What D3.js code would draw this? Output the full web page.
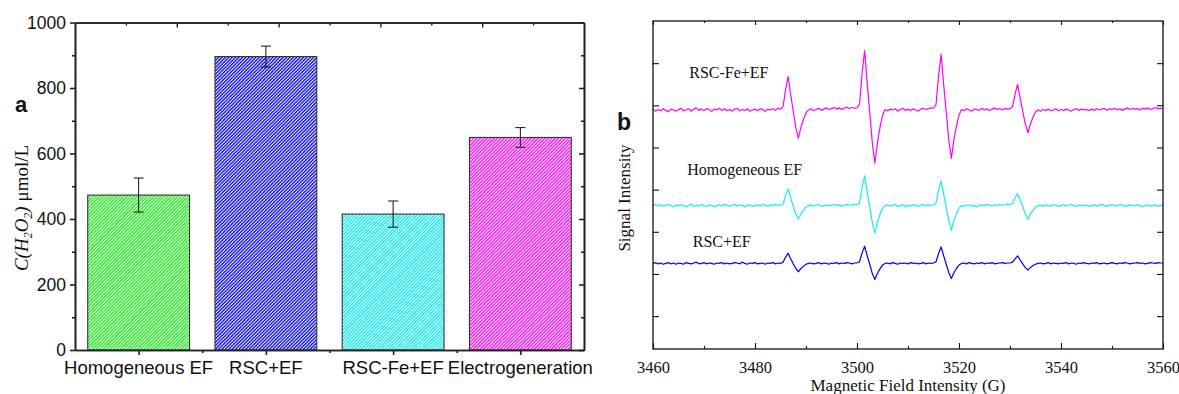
<!DOCTYPE html>
<html>
<head>
<meta charset="utf-8">
<script src="https://cdn.jsdelivr.net/npm/d3@7"></script>
<style>
  body { margin: 0; background: #fff; }
  svg { display: block; }
  .sans { font-family: "Liberation Sans", Arial, sans-serif; }
  .serif { font-family: "Liberation Serif", "Times New Roman", serif; }
</style>
</head>
<body>
<svg id="chart" width="1179" height="394"></svg>
<script>
"use strict";

// ---- panel a : H2O2 concentration ----
var categories = ["Homogeneous EF", "RSC+EF", "RSC-Fe+EF", "Electrogeneration"];
var h2o2Values = [473, 896, 415, 649];
var h2o2Errors = [52, 32, 40, 30];
var barColors = ["#22ee22", "#1010f0", "#11eeee", "#ff10ff"];
var yTicksA = [0, 200, 400, 600, 800, 1000];
var yMinorA = [100, 300, 500, 700, 900];

// ---- panel b : EPR spectra ----
var fieldG = [
  3460,3460.5,3461,3461.5,3462,3462.5,3463,3463.5,3464,3464.5,
  3465,3465.5,3466,3466.5,3467,3467.5,3468,3468.5,3469,3469.5,
  3470,3470.5,3471,3471.5,3472,3472.5,3473,3473.5,3474,3474.5,
  3475,3475.5,3476,3476.5,3477,3477.5,3478,3478.5,3479,3479.5,
  3480,3480.5,3481,3481.5,3482,3482.5,3483,3483.5,3484,3484.5,
  3485,3485.5,3486,3486.5,3487,3487.5,3488,3488.5,3489,3489.5,
  3490,3490.5,3491,3491.5,3492,3492.5,3493,3493.5,3494,3494.5,
  3495,3495.5,3496,3496.5,3497,3497.5,3498,3498.5,3499,3499.5,
  3500,3500.5,3501,3501.5,3502,3502.5,3503,3503.5,3504,3504.5,
  3505,3505.5,3506,3506.5,3507,3507.5,3508,3508.5,3509,3509.5,
  3510,3510.5,3511,3511.5,3512,3512.5,3513,3513.5,3514,3514.5,
  3515,3515.5,3516,3516.5,3517,3517.5,3518,3518.5,3519,3519.5,
  3520,3520.5,3521,3521.5,3522,3522.5,3523,3523.5,3524,3524.5,
  3525,3525.5,3526,3526.5,3527,3527.5,3528,3528.5,3529,3529.5,
  3530,3530.5,3531,3531.5,3532,3532.5,3533,3533.5,3534,3534.5,
  3535,3535.5,3536,3536.5,3537,3537.5,3538,3538.5,3539,3539.5,
  3540,3540.5,3541,3541.5,3542,3542.5,3543,3543.5,3544,3544.5,
  3545,3545.5,3546,3546.5,3547,3547.5,3548,3548.5,3549,3549.5,
  3550,3550.5,3551,3551.5,3552,3552.5,3553,3553.5,3554,3554.5,
  3555,3555.5,3556,3556.5,3557,3557.5,3558,3558.5,3559,3559.5,
  3560
];

// signal relative to each trace's baseline
var sigFeEF = [
  2,-3,1,-2,3,-1,-4,2,0,-3,
  1,4,-2,0,3,-3,2,5,-1,2,
  -2,3,1,-4,2,0,4,-1,3,-2,
  1,-3,2,4,-2,1,-1,3,-3,0,
  2,-2,3,1,-4,2,0,3,-1,4,
  2,8,49,79,36,-3,-42,-67,-42,-22,
  -7,0,3,-2,1,4,-1,2,5,1,
  3,6,2,5,1,4,7,3,6,4,
  5,14,87,141,63,-6,-78,-126,-78,-42,
  -13,1,-2,2,0,3,-3,1,4,-1,
  2,-2,3,0,-3,2,4,1,3,5,
  4,13,82,132,59,-6,-71,-115,-71,-38,
  -12,1,-2,3,0,-3,2,1,-1,4,
  0,3,-2,2,5,1,3,0,4,2,
  3,8,38,61,27,-3,-33,-54,-33,-18,
  -5,0,-3,1,-1,2,-2,0,3,-2,
  1,-1,2,0,-3,1,3,-1,2,0,
  1,-2,2,-1,3,0,2,4,-1,3,
  1,4,0,3,-1,2,5,1,4,2,
  3,0,4,2,5,1,3,6,2,4,
  3
];
var sigHomEF = [
  1,3,-1,2,-2,1,3,0,-3,2,
  -1,2,0,-3,1,4,-2,1,-1,3,
  0,-2,2,1,-3,0,2,-1,3,1,
  -2,1,3,-1,2,0,-3,1,2,-2,
  0,2,-1,3,1,-2,2,0,3,1,
  1,4,25,40,18,-2,-20,-32,-20,-11,
  -3,0,2,-1,1,3,-2,0,2,-1,
  1,3,0,2,-2,1,3,1,2,4,
  2,7,44,71,32,-3,-40,-65,-40,-21,
  -7,0,2,-1,1,3,-2,0,2,-3,
  1,-1,2,0,-2,1,3,-1,2,1,
  2,6,37,59,27,-3,-36,-58,-36,-19,
  -6,0,-2,1,2,-1,0,-3,1,2,
  0,3,1,-1,2,0,3,1,2,4,
  2,5,18,29,13,-2,-20,-32,-20,-11,
  -3,0,1,-2,2,0,-1,2,1,-2,
  0,2,-1,1,3,0,-2,1,2,-1,
  1,-2,0,2,-1,1,3,0,-2,1,
  2,0,-1,3,1,-2,0,2,1,-1,
  2,0,-3,1,2,-1,0,2,-2,1,
  0
];
var sigRscEF = [
  0,2,-1,1,-2,0,2,-1,1,-2,
  1,0,-2,2,0,-1,1,3,-1,0,
  2,-1,1,0,-2,1,0,2,-1,1,
  -1,0,2,1,-1,3,0,-2,1,0,
  2,-1,0,1,-2,1,0,2,-1,1,
  0,3,15,24,11,-1,-12,-20,-12,-7,
  -2,0,1,-1,0,2,-1,1,0,-2,
  1,0,2,-1,1,0,2,1,-1,1,
  1,4,25,41,18,-2,-24,-38,-24,-13,
  -4,0,1,-1,2,0,-2,1,0,1,
  -1,2,0,1,-1,0,2,-1,1,0,
  1,4,24,39,18,-2,-22,-36,-22,-12,
  -4,0,1,-1,2,0,-1,1,0,2,
  -1,1,0,2,-1,0,1,2,0,1,
  1,3,11,18,8,-1,-10,-16,-10,-5,
  -2,0,1,-1,0,2,-1,1,0,-1,
  1,0,2,-1,1,0,-2,1,0,2,
  0,-1,1,0,2,-1,0,1,-1,0,
  2,0,-1,1,0,2,1,-1,0,1,
  2,0,1,-1,0,2,1,0,2,1,
  1
];
var traceNames = ["RSC-Fe+EF", "Homogeneous EF", "RSC+EF"];
var traceSignals = [sigFeEF, sigHomEF, sigRscEF];
var traceBaselines = [589, 362, 225];
var traceColors = ["#ff00ff", "#11eeee", "#0000ee"];
var fieldTicks = [3460, 3480, 3500, 3520, 3540, 3560];
var fieldMinor = [3470, 3490, 3510, 3530, 3550];
var intensityTicks = [100, 200, 300, 400, 500, 600, 700];

var svg = d3.select("#chart");
var defs = svg.append("defs");

// hatch patterns
barColors.forEach(function (c, i) {
    var p = defs.append("pattern")
        .attr("id", "hatch" + i)
        .attr("patternUnits", "userSpaceOnUse")
        .attr("width", 2.4).attr("height", 2.4)
        .attr("patternTransform", "rotate(45)");
    p.append("rect").attr("width", 2.4).attr("height", 2.4).attr("fill", "#fff");
    p.append("line").attr("x1", 0.7).attr("y1", 0).attr("x2", 0.7).attr("y2", 2.4)
        .attr("stroke", c).attr("stroke-width", 1.45);
});

// ================= panel a =================
var ax = d3.scaleBand().domain(categories).range([75, 584]).paddingInner(0.2).paddingOuter(0.1);
var ay = d3.scaleLinear().domain([0, 1000]).range([350, 22.5]);
var atop = d3.scaleLinear().domain([0, 10]).range([75, 584]);

var ga = svg.append("g");

ga.selectAll("rect.bar").data(categories).enter().append("rect")
    .attr("class", "bar")
    .attr("x", function (d) { return ax(d); })
    .attr("y", function (d, i) { return ay(h2o2Values[i]); })
    .attr("width", ax.bandwidth())
    .attr("height", function (d, i) { return ay(0) - ay(h2o2Values[i]); })
    .attr("fill", function (d, i) { return "url(#hatch" + i + ")"; })
    .attr("stroke", "#333").attr("stroke-width", 1.1);

// error bars
var eb = ga.selectAll("g.err").data(categories).enter().append("g").attr("class", "err");
eb.append("line")
    .attr("x1", function (d) { return ax(d) + ax.bandwidth() / 2; })
    .attr("x2", function (d) { return ax(d) + ax.bandwidth() / 2; })
    .attr("y1", function (d, i) { return ay(h2o2Values[i] + h2o2Errors[i]); })
    .attr("y2", function (d, i) { return ay(h2o2Values[i] - h2o2Errors[i]); })
    .attr("stroke", "#111").attr("stroke-width", 1);
[1, -1].forEach(function (s) {
    eb.append("line")
        .attr("x1", function (d) { return ax(d) + ax.bandwidth() / 2 - 5; })
        .attr("x2", function (d) { return ax(d) + ax.bandwidth() / 2 + 5; })
        .attr("y1", function (d, i) { return ay(h2o2Values[i] + s * h2o2Errors[i]); })
        .attr("y2", function (d, i) { return ay(h2o2Values[i] + s * h2o2Errors[i]); })
        .attr("stroke", "#111").attr("stroke-width", 1);
});

function styleAxis(g, w) {
    g.selectAll(".domain").attr("stroke", "#222").attr("stroke-width", w);
    g.selectAll(".tick line").attr("stroke", "#222").attr("stroke-width", w);
}

// left axis
var gl = ga.append("g").attr("transform", "translate(75,0)")
    .call(d3.axisLeft(ay).tickValues(yTicksA).tickSize(5).tickSizeOuter(0).tickPadding(4)
        .tickFormat(d3.format("d")));
gl.selectAll("text").attr("class", "sans").style("font-size", "17.5px").attr("fill", "#111");
styleAxis(gl, 1.6);
var glm = ga.append("g").attr("transform", "translate(75,0)")
    .call(d3.axisLeft(ay).tickValues(yMinorA).tickSize(3).tickSizeOuter(0).tickFormat(""));
styleAxis(glm, 1.6);

// right axis (inward ticks)
var gr = ga.append("g").attr("transform", "translate(584,0)")
    .call(d3.axisLeft(ay).tickValues(yTicksA).tickSize(5).tickSizeOuter(0).tickFormat(""));
styleAxis(gr, 1.6);
var grm = ga.append("g").attr("transform", "translate(584,0)")
    .call(d3.axisLeft(ay).tickValues(yMinorA).tickSize(3).tickSizeOuter(0).tickFormat(""));
styleAxis(grm, 1.6);

// top axis (inward ticks)
var gt = ga.append("g").attr("transform", "translate(0,22.5)")
    .call(d3.axisTop(atop).tickValues([2, 4, 6, 8]).tickSize(-5).tickSizeOuter(0).tickFormat(""));
styleAxis(gt, 1.4);
var gtm = ga.append("g").attr("transform", "translate(0,22.5)")
    .call(d3.axisTop(atop).tickValues([1, 3, 5, 7, 9]).tickSize(-3).tickSizeOuter(0).tickFormat(""));
styleAxis(gtm, 1.4);

// bottom axis
var centers = categories.map(function (d) { return ax(d) + ax.bandwidth() / 2; });
var bx = d3.scaleLinear().domain([75, 584]).range([75, 584]);
var gb = ga.append("g").attr("transform", "translate(0,350)")
    .call(d3.axisBottom(bx).tickValues(centers).tickSize(5).tickSizeOuter(0).tickFormat(""));
styleAxis(gb, 1.6);
var mids = d3.pairs(centers).map(function (p) { return (p[0] + p[1]) / 2; });
var gbm = ga.append("g").attr("transform", "translate(0,350)")
    .call(d3.axisBottom(bx).tickValues(mids).tickSize(3).tickSizeOuter(0).tickFormat(""));
styleAxis(gbm, 1.6);

ga.selectAll("text.cat").data(categories).enter().append("text")
    .attr("class", "sans cat")
    .attr("x", function (d) { return ax(d) + ax.bandwidth() / 2; })
    .attr("y", 374)
    .attr("text-anchor", "middle")
    .style("font-size", "18.5px").attr("fill", "#111")
    .text(function (d) { return d; });

// y label
var yl = ga.append("text").attr("class", "serif")
    .attr("transform", "translate(28,208) rotate(-90)")
    .attr("text-anchor", "middle").style("font-size", "19px").attr("fill", "#111");
yl.append("tspan").style("font-style", "italic").text("C(H");
yl.append("tspan").style("font-style", "italic").style("font-size", "12px").attr("dy", 4).text("2");
yl.append("tspan").style("font-style", "italic").attr("dy", -4).text("O");
yl.append("tspan").style("font-style", "italic").style("font-size", "12px").attr("dy", 4).text("2");
yl.append("tspan").style("font-style", "italic").attr("dy", -4).text(")");
yl.append("tspan").text(" \u03bcmol/L");

ga.append("text").attr("class", "sans").attr("x", 15).attr("y", 112)
    .style("font-size", "22px").style("font-weight", "bold").attr("fill", "#111").text("a");

// ================= panel b =================
var bxs = d3.scaleLinear().domain([3460, 3560]).range([653, 1163]);
var bys = d3.scaleLinear().domain([22, 800]).range([349, 21]);
var gbp = svg.append("g");

var line = d3.line()
    .x(function (d) { return bxs(d[0]); })
    .y(function (d) { return bys(d[1]); });

traceSignals.forEach(function (sig, k) {
    var pts = fieldG.map(function (f, i) { return [f, traceBaselines[k] + sig[i]]; });
    gbp.append("path").datum(pts)
        .attr("d", line)
        .attr("fill", "none")
        .attr("stroke", traceColors[k])
        .attr("stroke-width", 1.2)
        .attr("stroke-linejoin", "round");
});

gbp.append("rect").attr("x", bxs(3460)).attr("y", bys(800))
    .attr("width", bxs(3560) - bxs(3460)).attr("height", bys(22) - bys(800))
    .attr("fill", "none").attr("stroke", "#111").attr("stroke-width", 1.3);

function styleB(g) {
    g.select(".domain").remove();
    g.selectAll(".tick line").attr("stroke", "#111").attr("stroke-width", 1.1);
}
var bb = gbp.append("g").attr("transform", "translate(0," + bys(22) + ")")
    .call(d3.axisBottom(bxs).tickValues(fieldTicks).tickSize(-6).tickPadding(12).tickFormat(d3.format("d")));
styleB(bb);
bb.selectAll("text").attr("class", "serif").style("font-size", "16.5px").attr("fill", "#111");
styleB(gbp.append("g").attr("transform", "translate(0," + bys(22) + ")")
    .call(d3.axisBottom(bxs).tickValues(fieldMinor).tickSize(-3).tickFormat("")));
styleB(gbp.append("g").attr("transform", "translate(0," + bys(800) + ")")
    .call(d3.axisTop(bxs).tickValues(fieldTicks).tickSize(-4).tickFormat("")));
styleB(gbp.append("g").attr("transform", "translate(0," + bys(800) + ")")
    .call(d3.axisTop(bxs).tickValues(fieldMinor).tickSize(-2).tickFormat("")));
styleB(gbp.append("g").attr("transform", "translate(" + bxs(3460) + ",0)")
    .call(d3.axisLeft(bys).tickValues(intensityTicks).tickSize(-6).tickFormat("")));
styleB(gbp.append("g").attr("transform", "translate(" + bxs(3560) + ",0)")
    .call(d3.axisRight(bys).tickValues(intensityTicks).tickSize(-6).tickFormat("")));

// trace labels
var labelAt = [[3467.1, 664], [3466.7, 434], [3467.8, 264]];
traceNames.forEach(function (n, k) {
    gbp.append("text").attr("class", "serif")
        .attr("x", bxs(labelAt[k][0])).attr("y", bys(labelAt[k][1]))
        .style("font-size", "16px").attr("fill", "#111").text(n);
});

gbp.append("text").attr("class", "serif")
    .attr("transform", "translate(630,198) rotate(-90)")
    .attr("text-anchor", "middle").style("font-size", "17px").attr("fill", "#111")
    .text("Signal Intensity");

gbp.append("text").attr("class", "serif")
    .attr("x", (bxs(3460) + bxs(3560)) / 2).attr("y", 391)
    .attr("text-anchor", "middle").style("font-size", "17px").attr("fill", "#111")
    .text("Magnetic Field Intensity (G)");

gbp.append("text").attr("class", "sans").attr("x", 617).attr("y", 130)
    .style("font-size", "23px").style("font-weight", "bold").attr("fill", "#111").text("b");
</script>
</body>
</html>
